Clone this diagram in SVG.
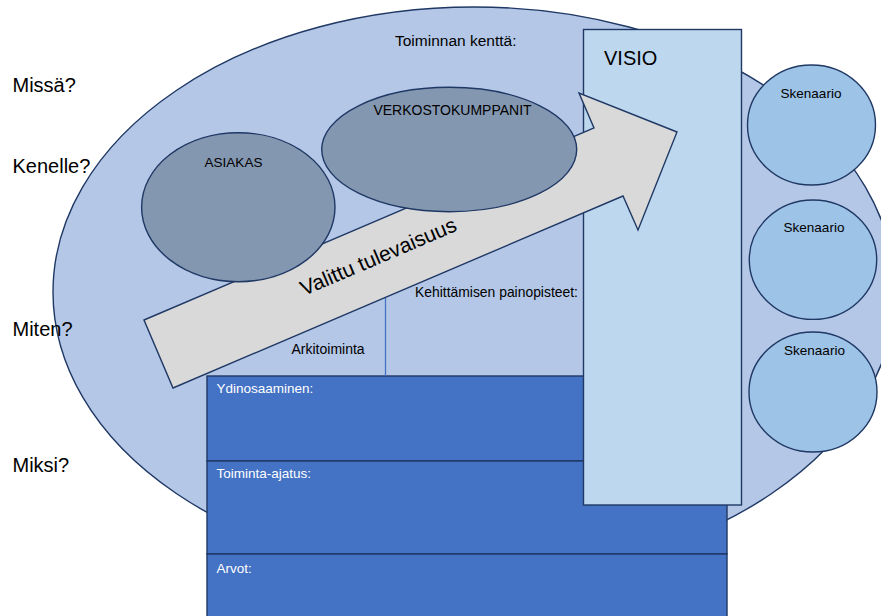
<svg xmlns="http://www.w3.org/2000/svg" width="881" height="616" viewBox="0 0 881 616">
<style>
  text { font-family: "Liberation Sans", Arial, sans-serif; fill: #000; }
  .q { font-size: 20px; }
  .s { font-size: 13.5px; }
  .w { fill: #ffffff; font-size: 13.5px; }
  .ol { stroke: #1f3864; stroke-width: 1.4; }
  .sk { fill: #9dc3e6; }
  .band { fill: #4472c4; }
</style>
<rect width="881" height="616" fill="#ffffff"/>

<g id="field">
  <ellipse cx="474" cy="292" rx="421" ry="285" fill="#b4c7e7" class="ol"/>
</g>

<g id="scenario1">
  <ellipse cx="811.5" cy="125" rx="64" ry="60" class="sk ol"/>
  <text x="811" y="98" class="s" text-anchor="middle">Skenaario</text>
</g>
<g id="scenario2">
  <ellipse cx="813" cy="259.7" rx="63.7" ry="59.7" class="sk ol"/>
  <text x="814" y="231.5" class="s" text-anchor="middle">Skenaario</text>
</g>
<g id="scenario3">
  <ellipse cx="813" cy="392" rx="64" ry="60" class="sk ol"/>
  <text x="814.5" y="355" class="s" text-anchor="middle">Skenaario</text>
</g>

<g id="ydinosaaminen">
  <rect x="207" y="376" width="520" height="85" class="band ol"/>
  <text x="216.5" y="393" class="w">Ydinosaaminen:</text>
</g>
<g id="toiminta-ajatus">
  <rect x="207" y="461" width="520" height="93" class="band ol"/>
  <text x="216.5" y="478" class="w">Toiminta-ajatus:</text>
</g>
<g id="arvot">
  <rect x="207" y="554" width="520" height="70" class="band ol"/>
  <text x="216.5" y="573" class="w">Arvot:</text>
</g>

<g id="connectors">
  <line x1="385.5" y1="296" x2="385.5" y2="376" stroke="#4472c4" stroke-width="1.3"/>
</g>

<g id="visio">
  <rect x="583.5" y="29.5" width="158" height="475.5" fill="#bdd7ee" class="ol"/>
  <text x="604" y="65" style="font-size:20px">VISIO</text>
</g>

<g id="valittu-tulevaisuus">
  <polygon points="144,320 594,128 579,93 677,132 638,230 623,196 173,388" fill="#d9d9d9" class="ol" stroke-linejoin="miter"/>
  <text x="304" y="296" transform="rotate(-23.1 304 296)" style="font-size:21px">Valittu tulevaisuus</text>
</g>

<g id="asiakas">
  <ellipse cx="238.3" cy="207.2" rx="96.7" ry="74.5" fill="#8497b0" class="ol"/>
  <text x="233.5" y="167" class="s" text-anchor="middle">ASIAKAS</text>
</g>
<g id="verkostokumppanit">
  <ellipse cx="449.2" cy="149.5" rx="127.5" ry="62.2" fill="#8497b0" class="ol"/>
  <text x="452.5" y="115" style="font-size:14px" text-anchor="middle">VERKOSTOKUMPPANIT</text>
</g>

<g id="labels">
  <text x="395" y="45.5" style="font-size:15.5px">Toiminnan kenttä:</text>
  <text x="415" y="297" style="font-size:13.9px">Kehittämisen painopisteet:</text>
  <text x="291.5" y="354" style="font-size:14px">Arkitoiminta</text>
  <text x="12.5" y="92" class="q">Missä?</text>
  <text x="12.5" y="173" class="q">Kenelle?</text>
  <text x="12.5" y="336" class="q">Miten?</text>
  <text x="12.5" y="472" class="q">Miksi?</text>
</g>
</svg>
